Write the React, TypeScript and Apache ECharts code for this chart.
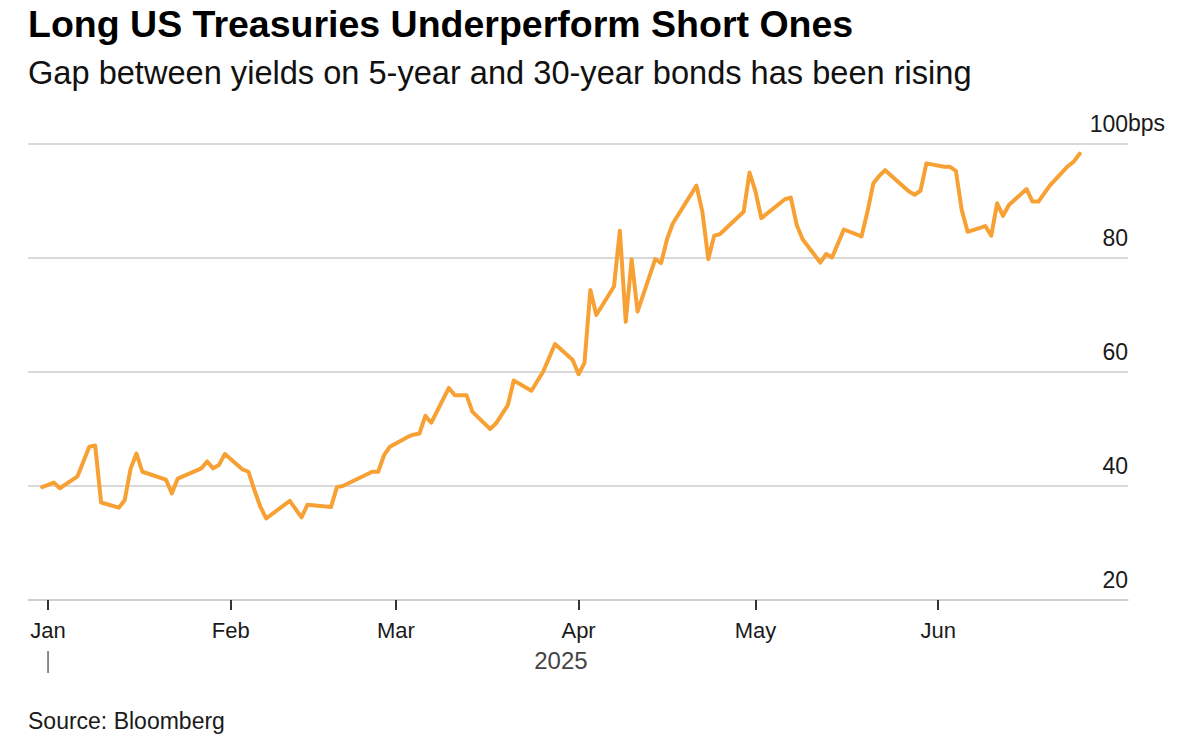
import React, { useEffect, useRef } from "react";
import * as echarts from "echarts";

// ---- Data (5s30s US Treasury curve spread, bps) ----
const dates = [
  "2024-12-31", "2025-01-02", "2025-01-03", "2025-01-06", "2025-01-07", "2025-01-08", "2025-01-09",
  "2025-01-10", "2025-01-13", "2025-01-14", "2025-01-15", "2025-01-16", "2025-01-17", "2025-01-21",
  "2025-01-22", "2025-01-23", "2025-01-27", "2025-01-28", "2025-01-29", "2025-01-30", "2025-01-31",
  "2025-02-03", "2025-02-04", "2025-02-05", "2025-02-06", "2025-02-07", "2025-02-11", "2025-02-13",
  "2025-02-14", "2025-02-18", "2025-02-19", "2025-02-20", "2025-02-25", "2025-02-26", "2025-02-27",
  "2025-02-28", "2025-03-03", "2025-03-04", "2025-03-05", "2025-03-06", "2025-03-07", "2025-03-10",
  "2025-03-11", "2025-03-13", "2025-03-14", "2025-03-17", "2025-03-18", "2025-03-20", "2025-03-21",
  "2025-03-24", "2025-03-26", "2025-03-28", "2025-03-31", "2025-04-01", "2025-04-02", "2025-04-03",
  "2025-04-04", "2025-04-07", "2025-04-08", "2025-04-09", "2025-04-10", "2025-04-11", "2025-04-14",
  "2025-04-15", "2025-04-16", "2025-04-17", "2025-04-21", "2025-04-22", "2025-04-23", "2025-04-24",
  "2025-04-25", "2025-04-29", "2025-04-30", "2025-05-01", "2025-05-02", "2025-05-06", "2025-05-07",
  "2025-05-08", "2025-05-09", "2025-05-12", "2025-05-13", "2025-05-14", "2025-05-16", "2025-05-19",
  "2025-05-20", "2025-05-21", "2025-05-22", "2025-05-23", "2025-05-27", "2025-05-28", "2025-05-29",
  "2025-05-30", "2025-06-02", "2025-06-03", "2025-06-04", "2025-06-05", "2025-06-06", "2025-06-09",
  "2025-06-10", "2025-06-11", "2025-06-12", "2025-06-13", "2025-06-16", "2025-06-17", "2025-06-18",
  "2025-06-20", "2025-06-23", "2025-06-24", "2025-06-25",
];
const spread = [
  39.8, 40.6, 39.6, 41.7, 44.3, 46.9, 47.1,
  37.1, 36.2, 37.5, 43.0, 45.7, 42.5, 41.1,
  38.7, 41.3, 43.1, 44.3, 43.1, 43.7, 45.6,
  42.9, 42.5, 39.3, 36.4, 34.3, 37.4, 34.5,
  36.7, 36.3, 39.8, 40.0, 42.5, 42.5, 45.4,
  46.9, 48.6, 49.0, 49.2, 52.3, 51.1, 57.2,
  55.9, 55.9, 53.0, 50.0, 51.0, 54.2, 58.5,
  56.7, 60.1, 64.9, 62.1, 59.6, 61.6, 74.4,
  70.0, 75.0, 84.8, 68.8, 79.8, 70.6, 79.8,
  79.1, 83.3, 86.1, 92.7, 88.1, 79.8, 83.9,
  84.2, 88.1, 95.0, 91.7, 87.0, 90.3, 90.6,
  85.8, 83.3, 79.2, 80.7, 80.1, 85.0, 83.8,
  88.1, 93.1, 94.4, 95.4, 91.7, 91.1, 91.8,
  96.6, 96.0, 96.0, 95.3, 88.4, 84.6, 85.6,
  83.9, 89.6, 87.4, 89.3, 92.1, 89.9, 89.9,
  92.8, 96.1, 96.9, 98.3,
];
const monthTicks = ["2025-01-01", "2025-02-01", "2025-03-01", "2025-04-01", "2025-05-01", "2025-06-01"];
const monthLabels = ["Jan", "Feb", "Mar", "Apr", "May", "Jun"];
const yearLabel = "2025";
const yMin = 20;
const yMax = 100;
const yStep = 20;
const unitLabel = "bps";

const titleText = "Long US Treasuries Underperform Short Ones";
const subtitleText = "Gap between yields on 5-year and 30-year bonds has been rising";
const sourceText = "Source: Bloomberg";

const FONT = '"Liberation Sans", Arial, Helvetica, sans-serif';
const DAY = 86400000;
const toTs = (s: string) => Date.parse(s + "T00:00:00Z");

export default function App() {
  const ref = useRef<HTMLDivElement>(null);

  useEffect(() => {
    if (!ref.current) return;
    const chart = echarts.init(ref.current, null, { renderer: "svg" });
    const data = dates.map((d, i) => [toTs(d), spread[i]]);
    const tickTs = monthTicks.map(toTs);
    const jan1 = toTs("2025-01-01");
    const xMin = jan1 - 3.4 * DAY;
    const xMax = jan1 + 183.2 * DAY;

    chart.setOption({
      animation: false,
      grid: { left: 28, right: 72, top: 144, bottom: 135 },
      xAxis: {
        type: "value",
        min: xMin,
        max: xMax,
        axisLine: { show: true, lineStyle: { color: "#cccccc", width: 1.5 } },
        axisTick: {
          show: true,
          customValues: tickTs,
          length: 10,
          lineStyle: { color: "#333333", width: 2 },
        },
        axisLabel: {
          customValues: tickTs,
          formatter: (v: number) => monthLabels[new Date(v).getUTCMonth()],
          margin: 30,
          verticalAlign: "middle",
          fontSize: 22,
          color: "#1a1a1a",
          fontFamily: FONT,
        },
        splitLine: { show: false },
      },
      yAxis: {
        type: "value",
        position: "right",
        min: yMin,
        max: yMax,
        interval: yStep,
        axisLine: { show: false },
        axisTick: { show: false },
        axisLabel: {
          inside: true,
          margin: 0,
          align: "right",
          verticalAlign: "bottom",
          lineHeight: 23,
          padding: [0, 0, 9, 0],
          fontSize: 23,
          color: "#1a1a1a",
          fontFamily: FONT,
        },
        splitLine: { show: true, lineStyle: { color: "#cccccc", width: 1.5 } },
      },
      series: [
        {
          type: "line",
          data,
          showSymbol: false,
          symbol: "none",
          lineStyle: { color: "#F7A134", width: 4, join: "round", cap: "round" },
          itemStyle: { color: "#F7A134" },
        },
      ],
    });

    const [janX] = chart.convertToPixel({ gridIndex: 0 }, [jan1, yMin]) as number[];
    const midTs = (toTs(dates[0]) + toTs(dates[dates.length - 1])) / 2;
    const [midX] = chart.convertToPixel({ gridIndex: 0 }, [midTs, yMin]) as number[];
    const [rightX, topY] = chart.convertToPixel({ gridIndex: 0 }, [xMax, yMax]) as number[];

    chart.setOption({
      graphic: [
        {
          type: "text",
          x: 28,
          y: 23.5,
          style: {
            text: titleText,
            fill: "#000000",
            font: `bold 37.5px ${FONT}`,
            verticalAlign: "middle",
            align: "left",
          },
        },
        {
          type: "text",
          x: 28,
          y: 72,
          style: {
            text: subtitleText,
            fill: "#111111",
            font: `32.6px ${FONT}`,
            verticalAlign: "middle",
            align: "left",
          },
        },
        {
          type: "text",
          x: rightX,
          y: topY - 21,
          style: {
            text: unitLabel,
            fill: "#1a1a1a",
            font: `23px ${FONT}`,
            verticalAlign: "middle",
            align: "left",
          },
        },
        {
          type: "line",
          shape: { x1: janX, y1: 651, x2: janX, y2: 673 },
          style: { stroke: "#666666", lineWidth: 1.5 },
        },
        {
          type: "text",
          x: midX,
          y: 660.5,
          style: {
            text: yearLabel,
            fill: "#444444",
            font: `24px ${FONT}`,
            verticalAlign: "middle",
            align: "center",
          },
        },
        {
          type: "text",
          x: 28,
          y: 721,
          style: {
            text: sourceText,
            fill: "#1a1a1a",
            font: `23px ${FONT}`,
            verticalAlign: "middle",
            align: "left",
          },
        },
      ],
    });

    return () => chart.dispose();
  }, []);

  return (
    <div
      ref={ref}
      style={{ position: "fixed", left: 0, top: 0, width: 1200, height: 735, background: "#ffffff" }}
    />
  );
}
